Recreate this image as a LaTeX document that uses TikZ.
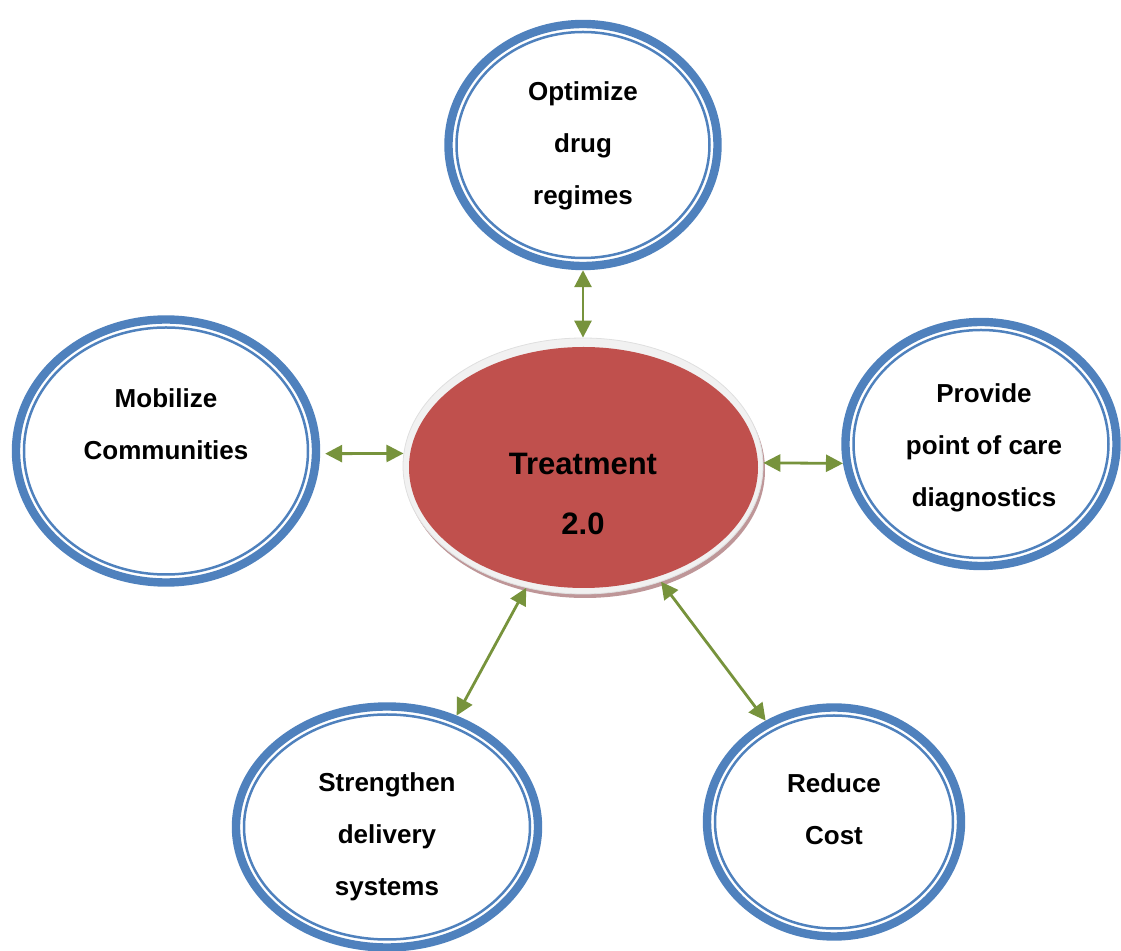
\documentclass[tikz,border=0pt]{standalone}
\usepackage{fontspec}
\setmainfont{Liberation Sans}
\usetikzlibrary{shapes.geometric,arrows.meta}

\begin{document}
\begin{tikzpicture}[x=0.5pt,y=-0.5pt]
  \definecolor{ringblue}{RGB}{79,129,189}
  \definecolor{arrowgreen}{RGB}{119,147,60}
  \definecolor{softred}{RGB}{192,80,77}
  \definecolor{ringgray}{RGB}{241,241,241}
  \definecolor{shadowred}{RGB}{190,150,152}
  \tikzset{
    goal/.style={ellipse, draw=ringblue, line width=4.2pt, inner sep=0pt},
    goalin/.style={draw=ringblue, line width=1.25pt},
    link/.style={{Triangle[length=8.5pt,width=8.5pt]}-{Triangle[length=8.5pt,width=8.5pt]},
      draw=arrowgreen, line width=1.4pt},
    txt/.style={align=center, font=\fontsize{13}{26}\selectfont\bfseries},
  }
  \useasboundingbox (0,0) rectangle (1121,951);

  % Outer goals
  \node[goal, minimum width=134.5pt, minimum height=121pt]   (opt)  at (583,145) {};
  \node[goal, minimum width=150pt,   minimum height=131.5pt] (mob)  at (166,451) {};
  \node[goal, minimum width=135.5pt, minimum height=122pt]   (poc)  at (981,444) {};
  \node[goal, minimum width=151pt,   minimum height=120.5pt] (str)  at (387,827) {};
  \node[goal, minimum width=127pt,   minimum height=114.5pt] (cost) at (834,822) {};
  % thin inner rings
  \foreach \n/\a/\b in {opt/126.5/113, mob/142/123.5, poc/127.5/114, str/143/112.5, cost/119/106.5}
    \draw[goalin] (\n.center) ellipse ({\a} and {\b});

  % Centre with shadow and light rim
  \fill[shadowred] (585,470) ellipse (180 and 128);
  \node[ellipse, fill=ringgray, draw=gray!25, inner sep=0pt,
        minimum width=180pt, minimum height=128pt] (tr) at (583,466) {};
  \fill[softred] (583.5,467.5) ellipse (174.5 and 120.5);

  % Labels
  \node[txt] (optText)  at (583,146) {Optimize\\drug\\regimes};
  \node[txt] (mobText)  at (166,424) {Mobilize\\Communities};
  \node[txt] (pocText)  at (984,448) {Provide\\point of care\\diagnostics};
  \node[txt] (strText)  at (387,837) {Strengthen\\delivery\\systems};
  \node[txt] (costText) at (834,809) {Reduce\\Cost};
  \node[txt, font=\fontsize{15.5}{30}\selectfont\bfseries] (trText) at (583,494) {Treatment\\2.0};

  % Links
  \draw[link] (tr.90)  -- (opt.270);
  \draw[link] (tr.176) -- ([xshift=2.5pt]mob.-1);
  \draw[link] (tr.1)   -- (poc.188);
  \draw[link] (tr.245) -- (str.58);
  \draw[link] (tr.-56) -- (cost.124);
\end{tikzpicture}
\end{document}
